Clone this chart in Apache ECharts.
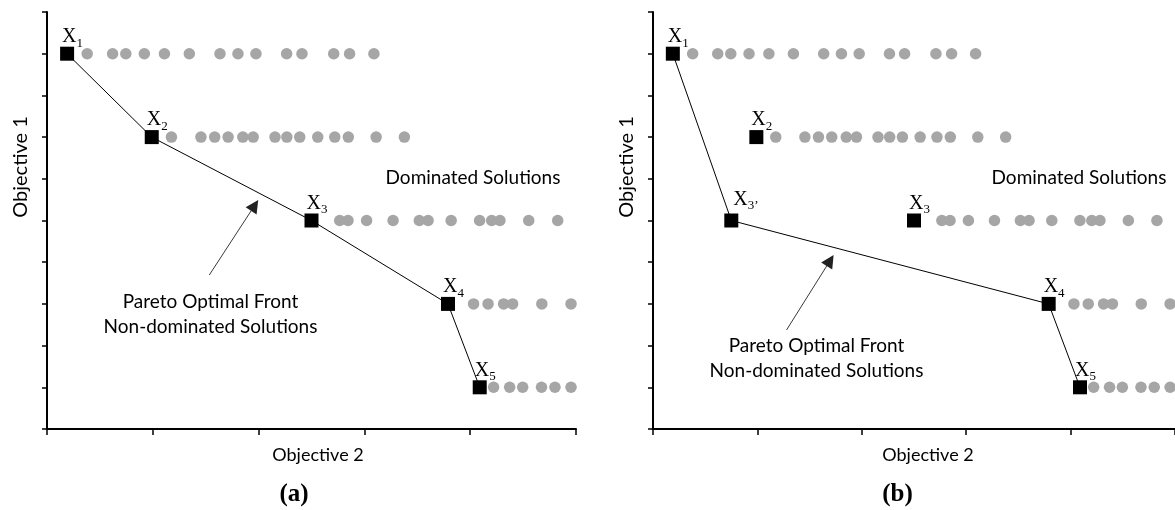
<!DOCTYPE html>
<html>
<head>
<meta charset="utf-8">
<script src="https://cdn.jsdelivr.net/npm/echarts@6/dist/echarts.min.js"></script>
<style>
  html, body { margin: 0; padding: 0; background: #ffffff; }
  #chart { width: 1175px; height: 510px; }
</style>
</head>
<body>
<div id="chart"></div>
<script>
// Candidate solutions: Objective 2 (x) and Objective 1 (y)
const solutionNames = ['X1', 'X2', 'X3', 'X4', 'X5'];
const solutionObj2 = [0.19, 0.99, 2.50, 3.79, 4.09];
const solutionObj1 = [9, 7, 5, 3, 1];

// Extra solution that appears in panel (b)
const shiftedName = "X3'";
const shiftedObj2 = 0.75;
const shiftedObj1 = 5;

// Order of the solutions along each Pareto front
const frontA = ['X1', 'X2', 'X3', 'X4', 'X5'];
const frontB = ['X1', "X3'", 'X4', 'X5'];

// Dominated solutions, one list of Objective 2 values per Objective 1 level
const dominatedLevels = [9, 7, 5, 3, 1];
const dominated9 = [0.38, 0.62, 0.745, 0.92, 1.11, 1.345, 1.635, 1.805, 1.975, 2.265, 2.41, 2.71, 2.86, 3.09];
const dominated7 = [1.176, 1.455, 1.585, 1.712, 1.851, 1.949, 2.155, 2.267, 2.389, 2.559, 2.72, 2.848, 3.111, 3.378];
const dominated5 = [2.767, 2.845, 3.021, 3.271, 3.519, 3.602, 3.82, 4.089, 4.203, 4.281, 4.553, 4.827];
const dominated3 = [4.032, 4.169, 4.316, 4.401, 4.677, 4.953];
const dominated1 = [4.221, 4.373, 4.496, 4.674, 4.801, 4.953];

// Annotation arrows [tail, head] in data units, per panel
const arrowA = [[1.534, 3.693], [1.963, 5.362]];
const arrowB = [[1.279, 2.374], [1.697, 4.041]];

const panelCaptions = ['(a)', '(b)'];
const axisTitleX = 'Objective 2';
const axisTitleY = 'Objective 1';
const frontText = 'Pareto Optimal Front\nNon-dominated Solutions';
const dominatedText = 'Dominated Solutions';

// ---- build option ----
const dominatedRows = [dominated9, dominated7, dominated5, dominated3, dominated1];
const dominatedPoints = [];
dominatedRows.forEach((row, i) => row.forEach(x => dominatedPoints.push([x, dominatedLevels[i]])));

const allNames = solutionNames.concat([shiftedName]);
const allObj2 = solutionObj2.concat([shiftedObj2]);
const allObj1 = solutionObj1.concat([shiftedObj1]);
function pointOf(name) {
  const i = allNames.indexOf(name);
  return [allObj2[i], allObj1[i]];
}

function labelText(name) {
  const sub = name.slice(1).replace("'", '\u2019');
  return '{x|X}{s|' + sub + '}';
}

const labelRich = {
  x: { fontFamily: 'Liberation Serif', fontSize: 20, color: '#000', verticalAlign: 'top' },
  s: { fontFamily: 'Liberation Serif', fontSize: 13, color: '#000', verticalAlign: 'top', padding: [10, 0, 0, 0] }
};

function squareData(names) {
  return names.map(n => {
    const item = { name: n, value: pointOf(n) };
    if (n === shiftedName) {
      item.label = { position: [9, -1] };
    }
    return item;
  });
}

const GRID_W = 529, GRID_H = 417, TOP = 12;
const grids = [
  { left: 47, top: TOP, width: GRID_W, height: GRID_H },
  { left: 653, top: TOP, width: GRID_W, height: GRID_H }
];

function xAxisFor(i) {
  return {
    gridIndex: i, type: 'value', min: 0, max: 5, interval: 1,
    axisLine: { show: true, onZero: false, lineStyle: { color: '#000', width: 2 } },
    axisTick: { show: true, inside: false, length: 6, lineStyle: { color: '#000', width: 1.5 } },
    axisLabel: { show: false }, splitLine: { show: false }
  };
}
function yAxisFor(i) {
  return {
    gridIndex: i, type: 'value', min: 0, max: 10, interval: 1,
    axisLine: { show: true, onZero: false, lineStyle: { color: '#000', width: 2 } },
    axisTick: { show: true, inside: false, length: 5, lineStyle: { color: '#000', width: 1.5 } },
    axisLabel: { show: false }, splitLine: { show: false }
  };
}

function panelSeries(i, front, squares, arrow) {
  return [
    {
      type: 'scatter', xAxisIndex: i, yAxisIndex: i, z: 2,
      symbol: 'circle', symbolSize: 11.5,
      itemStyle: { color: '#a6a6a6', opacity: 1 },
      silent: true,
      data: dominatedPoints
    },
    {
      type: 'line', xAxisIndex: i, yAxisIndex: i, z: 3,
      showSymbol: false, silent: true,
      lineStyle: { color: '#000', width: 1 },
      data: front.map(pointOf),
      markLine: {
        silent: true,
        symbol: ['none', 'triangle'],
        symbolSize: 13,
        label: { show: false },
        itemStyle: { color: '#000' },
        lineStyle: { color: '#222', width: 0.9, type: 'solid', opacity: 1 },
        data: [[{ coord: arrow[0] }, { coord: arrow[1] }]]
      }
    },
    {
      type: 'scatter', xAxisIndex: i, yAxisIndex: i, z: 4,
      symbol: 'rect', symbolSize: 14,
      itemStyle: { color: '#000', opacity: 1 },
      silent: true,
      label: {
        show: true,
        position: [2, 3],
        align: 'left',
        verticalAlign: 'bottom',
        formatter: p => labelText(p.name),
        rich: labelRich
      },
      data: squareData(squares)
    }
  ];
}

const sansFont = 'Lato';
function panelGraphics(dx, frontY, objXCenter) {
  return [
    { type: 'text', x: 21 + dx, y: 167, rotation: Math.PI / 2,
      style: { text: axisTitleY, font: '20px ' + sansFont, fill: '#000', align: 'center', verticalAlign: 'middle' } },
    { type: 'text', x: objXCenter, y: 455,
      style: { text: axisTitleX, font: '18px ' + sansFont, fill: '#000', align: 'center', verticalAlign: 'middle' } },
    { type: 'text', x: 473 + dx, y: 178,
      style: { text: dominatedText, font: '19px ' + sansFont, fill: '#000', align: 'center', verticalAlign: 'middle' } },
    { type: 'text', x: 210.5 + dx, y: frontY,
      style: { text: frontText, font: '19px ' + sansFont, lineHeight: 25, fill: '#000', align: 'center', verticalAlign: 'middle' } }
  ];
}

const captionGraphics = panelCaptions.map((c, i) => ({
  type: 'text', x: i === 0 ? 294 : 897.5, y: 495,
  style: { text: c, font: 'bold 25px "Liberation Serif"', fill: '#000', align: 'center', verticalAlign: 'middle' }
}));

const option = {
  backgroundColor: '#ffffff',
  animation: false,
  grid: grids,
  xAxis: [xAxisFor(0), xAxisFor(1)],
  yAxis: [yAxisFor(0), yAxisFor(1)],
  series: [].concat(
    panelSeries(0, frontA, solutionNames, arrowA),
    panelSeries(1, frontB, solutionNames.concat([shiftedName]), arrowB)
  ),
  graphic: {
    elements: [].concat(
      panelGraphics(0, 314, 318),
      panelGraphics(606, 358, 928),
      captionGraphics
    )
  }
};

const chart = echarts.init(document.getElementById('chart'), null, { renderer: 'canvas' });
chart.setOption(option);
</script>
</body>
</html>
